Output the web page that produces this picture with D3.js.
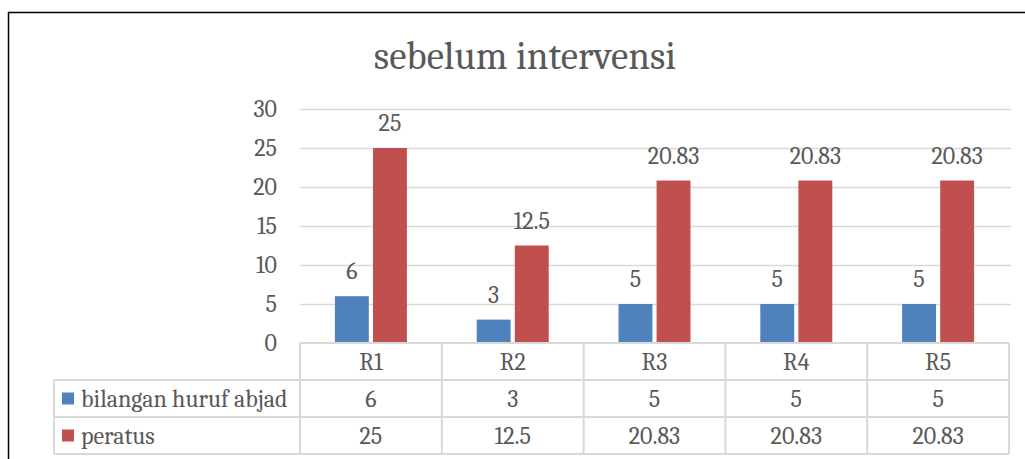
<!DOCTYPE html>
<html>
<head>
<meta charset="utf-8">
<script src="https://cdn.jsdelivr.net/npm/d3@7"></script>
<style>
  body { margin: 0; background: #fff; }
  text { font-family: Cambria, "DejaVu Serif", serif; fill: #595959; }
</style>
</head>
<body>
<div id="chart"></div>
<script>
let categories = ["R1", "R2", "R3", "R4", "R5"];
let seriesNames = ["bilangan huruf abjad", "peratus"];
let bilangan = [6, 3, 5, 5, 5];
let peratus = [25, 12.5, 20.83, 20.83, 20.83];
let yTicks = [0, 5, 10, 15, 20, 25, 30];
let colors = ["#4f81bd", "#c0504d"];

let width = 1025, height = 459;
let plotLeft = 300, plotRight = 1009, plotTop = 109, plotBottom = 343;
let rowH = 37;
let fs = "24px";

let svg = d3.select("#chart").append("svg")
  .attr("width", width)
  .attr("height", height);

// outer frame (only left and top visible)
svg.append("path")
  .attr("d", `M8.5,${height} L8.5,12.5 L${width},12.5`)
  .attr("fill", "none")
  .attr("stroke", "#000")
  .attr("stroke-width", 1.5);

svg.append("text")
  .attr("x", 525).attr("y", 69)
  .attr("text-anchor", "middle")
  .style("font-size", "39px")
  .text("sebelum intervensi");

let x = d3.scaleBand().domain(categories).range([plotLeft, plotRight]);
let x1 = d3.scaleBand().domain([0, 1]).range([0, 72]).paddingInner(0.11);
let y = d3.scaleLinear().domain([0, 30]).range([plotBottom, plotTop]);

// gridlines
svg.append("g")
  .attr("transform", `translate(${plotLeft},0)`)
  .call(d3.axisLeft(y).tickValues(yTicks.slice(1)).tickSize(-(plotRight - plotLeft + 2)).tickFormat(""))
  .call(g => g.select(".domain").remove())
  .call(g => g.selectAll("line").attr("stroke", "#d9d9d9").attr("stroke-width", 1.5));

// y tick labels
svg.append("g")
  .attr("transform", `translate(277,0)`)
  .call(d3.axisLeft(y).tickValues(yTicks).tickSize(0).tickPadding(0))
  .call(g => g.select(".domain").remove())
  .call(g => g.selectAll("text").style("font-size", fs).style("font-family", null).attr("fill", "#595959").attr("dy", "0.33em"));

let series = [bilangan, peratus];
series.forEach(function(vals, s) {
  let g = svg.append("g");
  g.selectAll("rect")
    .data(vals)
    .join("rect")
    .attr("x", (d, i) => x(categories[i]) + (x.bandwidth() - 72) / 2 + x1(s))
    .attr("y", d => y(d))
    .attr("width", x1.bandwidth())
    .attr("height", d => y(0) - y(d))
    .attr("fill", colors[s]);
  g.selectAll("text")
    .data(vals)
    .join("text")
    .attr("x", (d, i) => x(categories[i]) + (x.bandwidth() - 72) / 2 + x1(s) + x1.bandwidth() / 2)
    .attr("y", d => y(d) - 17)
    .attr("text-anchor", "middle")
    .style("font-size", fs)
    .text(d => d);
});

// data table
let table = svg.append("g");
let lineColor = "#d9d9d9";
function hline(xa, xb, yy) {
  table.append("line").attr("x1", xa).attr("x2", xb).attr("y1", yy).attr("y2", yy)
    .attr("stroke", lineColor).attr("stroke-width", 2);
}
function vline(xx, ya, yb) {
  table.append("line").attr("x1", xx).attr("x2", xx).attr("y1", ya).attr("y2", yb)
    .attr("stroke", lineColor).attr("stroke-width", 2);
}
hline(plotLeft, plotRight, plotBottom);
hline(54, plotRight, plotBottom + rowH);
hline(54, plotRight, plotBottom + rowH * 2);
hline(54, plotRight, plotBottom + rowH * 3);
vline(54, plotBottom + rowH, plotBottom + rowH * 3);
categories.forEach(c => vline(x(c), plotBottom, plotBottom + rowH * 3));
vline(plotRight, plotBottom, plotBottom + rowH * 3);

table.selectAll("text.cat")
  .data(categories)
  .join("text")
  .attr("class", "cat")
  .attr("x", d => x(d) + x.bandwidth() / 2)
  .attr("y", plotBottom + rowH / 2)
  .attr("dy", "0.35em")
  .attr("text-anchor", "middle")
  .style("font-size", fs)
  .text(d => d);

series.forEach(function(vals, s) {
  let cy = plotBottom + rowH * (s + 1) + rowH / 2;
  table.append("rect")
    .attr("x", 62).attr("y", cy - 6).attr("width", 12).attr("height", 12)
    .attr("fill", colors[s]);
  table.append("text")
    .attr("x", 81).attr("y", cy).attr("dy", "0.35em")
    .style("font-size", fs)
    .text(seriesNames[s]);
  table.selectAll("text.v" + s)
    .data(vals)
    .join("text")
    .attr("class", "v" + s)
    .attr("x", (d, i) => x(categories[i]) + x.bandwidth() / 2)
    .attr("y", cy)
    .attr("dy", "0.35em")
    .attr("text-anchor", "middle")
    .style("font-size", fs)
    .text(d => d);
});
</script>
</body>
</html>
